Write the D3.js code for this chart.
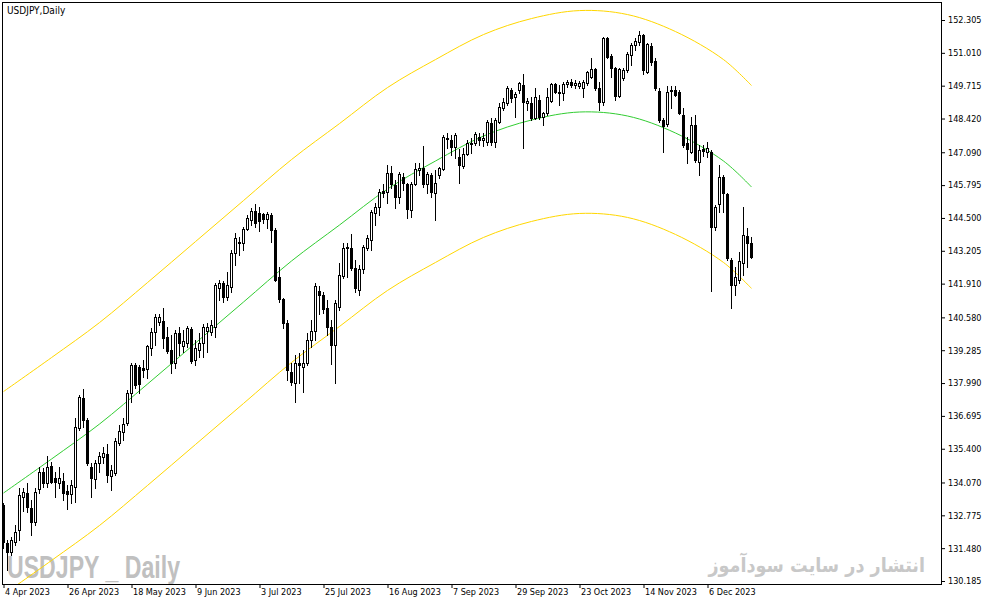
<!DOCTYPE html>
<html><head><meta charset="utf-8">
<script src="https://cdn.jsdelivr.net/npm/d3@7"></script>
<style>body{margin:0;background:#fff}svg{display:block}</style>
</head><body><svg id="c" width="987" height="605"></svg>
<script>
const opens=[133.18,131.68,131.33,131.72,132.20,133.50,133.65,133.06,132.51,133.81,
134.48,134.05,134.72,134.25,134.05,134.13,133.73,133.61,133.89,136.22,
137.40,136.53,134.68,134.21,134.84,135.07,135.19,134.33,134.44,135.63,
136.06,136.41,137.60,138.70,138.62,138.58,138.55,139.37,140.00,140.40,
140.44,139.81,139.29,138.78,139.96,139.45,139.57,140.12,138.90,139.29,
139.57,140.04,140.00,140.20,141.74,141.94,141.39,141.78,143.12,143.55,
143.51,144.07,144.42,144.77,144.70,144.66,144.46,144.62,144.03,142.17,
141.30,140.36,138.43,138.00,138.78,138.62,138.78,139.69,140.04,141.63,
141.47,140.95,140.20,139.49,140.99,142.21,143.36,143.32,142.53,141.66,
142.49,143.32,143.63,144.70,144.93,145.56,145.52,146.27,145.80,145.33,
146.11,145.84,144.81,145.84,146.39,146.47,145.84,146.19,145.48,146.19,
146.43,147.61,147.58,147.30,146.91,146.55,147.02,147.41,147.45,147.69,
147.58,147.50,148.25,147.50,148.29,148.84,149.03,149.55,149.27,149.55,
149.74,149.03,149.03,148.44,149.15,148.48,148.64,149.11,149.78,149.43,
149.43,149.78,149.86,149.74,149.70,149.62,149.82,150.06,150.37,149.62,
149.07,151.60,150.89,150.41,149.31,150.02,150.33,150.93,151.32,151.44,
151.71,150.26,151.28,150.69,149.51,148.36,148.21,149.51,149.55,149.47,
148.56,147.45,147.10,148.17,146.71,147.22,147.10,147.10,144.14,145.05,
146.11,145.44,142.84,141.86,142.06,142.73,143.79,143.51];
const highs=[133.26,131.80,131.92,132.39,133.85,133.85,134.05,133.38,133.85,134.68,
134.64,135.11,134.88,134.48,134.68,134.44,133.97,134.17,136.61,137.52,
137.76,136.61,134.84,134.96,135.27,135.47,135.59,134.76,135.83,136.34,
136.61,137.72,138.78,138.78,138.70,138.90,139.49,140.16,140.71,140.71,
140.95,140.20,139.88,140.08,140.20,140.08,140.24,140.20,139.69,139.96,
140.32,140.36,140.48,141.94,142.06,142.02,142.37,143.24,143.91,143.75,
144.14,144.62,144.89,145.05,144.93,144.70,144.74,144.70,144.10,142.57,
141.34,140.48,138.78,139.10,139.18,139.29,139.96,140.48,141.94,141.82,
141.59,141.26,140.48,141.26,142.73,143.51,143.51,143.87,142.84,142.65,
143.43,143.83,144.81,145.09,145.64,145.84,146.59,146.55,146.00,146.31,
146.27,145.88,145.92,146.67,146.67,147.34,146.31,146.27,146.39,146.51,
147.77,147.85,147.77,147.85,147.22,147.26,147.58,147.65,147.89,147.85,
147.85,148.36,148.44,148.44,149.03,149.23,149.70,149.62,149.47,149.86,
150.18,149.23,149.27,149.62,149.35,148.68,149.62,149.82,149.82,149.74,
149.86,149.94,149.98,149.94,149.90,149.94,150.30,150.81,150.41,149.86,
151.63,151.63,150.97,150.45,150.41,150.41,151.04,151.40,151.60,151.87,
151.75,151.40,151.40,150.81,149.62,148.44,149.70,149.70,149.70,149.55,
148.84,147.69,148.48,148.56,147.37,147.37,147.50,147.18,145.01,146.59,
146.19,145.48,142.92,142.57,143.16,144.93,144.10,143.75];
const lows=[131.49,130.62,131.21,131.60,131.80,132.94,132.90,132.00,132.39,133.65,
133.89,133.89,134.05,133.50,133.85,133.38,133.02,133.26,133.30,136.14,
136.26,134.76,133.50,133.85,134.48,134.84,134.09,133.77,134.37,135.56,
135.75,136.34,137.24,137.80,137.60,138.23,138.19,139.10,139.49,140.28,
139.37,139.18,138.39,138.58,139.10,139.21,139.41,138.78,138.70,139.02,
139.02,139.21,139.88,139.81,141.26,141.19,141.26,141.59,142.65,143.04,
143.24,144.03,144.22,144.14,143.99,144.30,144.10,143.55,142.02,141.19,
140.16,138.11,137.92,137.24,138.00,137.64,138.70,139.41,139.69,140.71,
140.75,139.88,138.74,138.00,140.87,142.13,142.17,142.45,141.59,141.47,
142.33,143.24,143.24,144.22,144.62,145.33,145.09,145.68,144.89,145.09,
145.60,144.50,144.54,145.80,146.19,145.72,145.48,145.33,144.42,146.08,
146.39,147.26,146.98,146.86,145.88,146.47,146.98,147.06,147.37,147.37,
147.33,147.37,147.37,147.30,148.25,148.76,148.96,149.07,148.48,149.43,
147.26,148.76,148.36,148.40,148.40,148.17,148.56,149.07,149.43,148.96,
149.15,149.66,149.66,149.62,149.62,149.27,149.74,150.02,149.55,148.76,
148.96,150.81,150.06,149.15,149.27,149.94,150.26,150.53,151.12,151.32,
150.18,150.22,150.53,149.55,148.28,147.10,148.13,148.84,149.31,148.60,
147.30,146.67,147.06,146.71,146.19,146.94,146.91,141.62,144.03,144.74,
144.74,142.84,140.95,141.47,141.94,142.25,142.57,142.92];
const closes=[131.72,131.33,131.80,132.12,133.57,133.69,133.10,132.51,133.69,134.48,
134.05,134.68,134.09,134.09,134.25,133.65,133.61,133.97,136.26,137.44,
136.53,134.84,134.25,134.84,135.11,135.23,134.37,134.56,135.71,136.10,
136.37,137.60,138.70,137.92,137.95,138.51,139.45,140.00,140.59,140.59,
139.77,139.25,138.78,139.96,139.57,139.65,140.16,138.86,139.37,139.57,
140.20,140.20,140.28,141.86,141.94,141.39,141.86,143.12,143.71,143.51,
144.07,144.50,144.77,144.30,144.38,144.46,144.66,144.03,142.06,141.30,
140.36,138.51,138.04,138.78,138.70,138.78,139.69,140.04,141.82,141.47,
140.91,140.20,139.49,141.15,142.25,143.32,143.32,142.53,141.74,142.49,
143.36,143.71,144.74,144.93,145.52,145.48,146.28,145.84,145.33,146.23,
145.88,144.85,145.84,146.43,146.47,145.84,146.23,145.52,145.88,146.47,
147.69,147.65,147.30,147.77,146.59,147.02,147.45,147.45,147.81,147.58,
147.65,148.29,147.50,148.36,148.87,149.07,149.62,149.23,149.39,149.82,
149.07,149.11,148.44,149.27,148.48,148.64,149.27,149.78,149.47,149.47,
149.78,149.86,149.74,149.82,149.82,149.86,150.26,150.37,149.62,149.07,
151.60,150.85,150.41,149.31,150.37,150.33,150.97,151.32,151.48,151.71,
150.33,151.36,150.65,149.62,148.36,148.13,149.47,149.55,149.35,148.64,
147.37,147.22,148.17,146.79,147.18,147.14,147.26,144.14,144.93,146.11,
145.48,142.92,141.86,142.17,142.80,143.83,143.51,142.96];

const priceTicks=[152.305,151.010,149.715,148.420,147.090,145.795,144.500,143.205,141.910,140.580,139.285,137.990,136.695,135.400,134.070,132.775,131.480,130.185];
const dateTickLabels=["4 Apr 2023","26 Apr 2023","18 May 2023","9 Jun 2023","3 Jul 2023","25 Jul 2023","16 Aug 2023","7 Sep 2023","29 Sep 2023","23 Oct 2023","14 Nov 2023","6 Dec 2023"];

const bandIdx=[0,12,24,36,48,60,72,84,96,108,120,132,144,156,168,180,187];
const bandMid=[133.654,134.994,136.374,137.952,139.568,141.185,142.802,144.221,145.641,146.745,147.731,148.362,148.677,148.520,147.849,146.745,145.720];
const bandUpper=[137.654,138.994,140.374,141.952,143.568,145.185,146.802,148.221,149.641,150.745,151.731,152.362,152.677,152.520,151.849,150.745,149.720];
const bandLower=[129.654,130.994,132.374,133.952,135.568,137.185,138.802,140.221,141.641,142.745,143.731,144.362,144.677,144.520,143.849,142.745,141.720];

const FONT='"DejaVu Sans Condensed","DejaVu Sans",sans-serif';
const svg=d3.select("#c");
svg.append("rect").attr("width",987).attr("height",605).attr("fill","#fff");

const fmt=d3.timeFormat("%-d %b %Y");
const days=d3.timeDay.range(new Date(2023,3,4),new Date(2024,1,1)).filter(d=>d.getDay()!==0&&d.getDay()!==6).slice(0,opens.length);
const dates=days.map(fmt);

const x=d3.scalePoint().domain(dates).range([3.5,3.5+4*(dates.length-1)]);
const y=d3.scaleLinear().domain([130.185,152.305]).range([581,20]);

svg.append("defs").append("clipPath").attr("id","clip").append("rect")
  .attr("x",3).attr("y",3).attr("width",938).attr("height",581);

// watermarks (behind)
svg.append("text").attr("x",7).attr("y",578)
  .attr("font-family",'"Liberation Sans Narrow","Liberation Sans",sans-serif')
  .attr("font-weight","bold").attr("font-size",31).attr("fill","#c0c0c0")
  .attr("textLength",173).attr("lengthAdjust","spacingAndGlyphs")
  .text("USDJPY _ Daily");
svg.append("text").attr("transform","translate(925,572) scale(0.88,1)").attr("text-anchor","end")
  .attr("font-family",'"DejaVu Sans",sans-serif').attr("font-weight","bold")
  .attr("font-size",20).attr("fill","#c8c8c8")
  .text("انتشار در سایت سودآموز");

const plot=svg.append("g").attr("clip-path","url(#clip)");

// bands
const mkLine=vals=>d3.line().x((d,k)=>x(dates[bandIdx[k]])).y(d=>y(d)).curve(d3.curveCatmullRom)(vals);
plot.append("path").attr("d",mkLine(bandUpper)).attr("fill","none").attr("stroke","#ffd700").attr("stroke-width",1);
plot.append("path").attr("d",mkLine(bandLower)).attr("fill","none").attr("stroke","#ffd700").attr("stroke-width",1);
plot.append("path").attr("d",mkLine(bandMid)).attr("fill","none").attr("stroke","#32cd32").attr("stroke-width",1);

// candles
const idx=d3.range(opens.length);
const cg=plot.append("g").attr("shape-rendering","crispEdges");
cg.selectAll("line.w").data(idx).join("line").attr("class","w")
  .attr("x1",i=>x(dates[i])).attr("x2",i=>x(dates[i]))
  .attr("y1",i=>Math.round(y(highs[i]))).attr("y2",i=>Math.round(y(lows[i]))+1)
  .attr("stroke","#000").attr("stroke-width",1);
const bodyIdx=idx.filter(i=>Math.round(y(opens[i]))!==Math.round(y(closes[i])));
const dojiIdx=idx.filter(i=>Math.round(y(opens[i]))===Math.round(y(closes[i])));
cg.selectAll("rect.b").data(bodyIdx).join("rect").attr("class","b")
  .attr("x",i=>x(dates[i])-1)
  .attr("y",i=>Math.min(Math.round(y(opens[i])),Math.round(y(closes[i])))+0.5)
  .attr("width",2)
  .attr("height",i=>Math.abs(Math.round(y(opens[i]))-Math.round(y(closes[i]))))
  .attr("fill",i=>closes[i]>=opens[i]?"#fff":"#000")
  .attr("stroke","#000").attr("stroke-width",1);
cg.selectAll("line.d").data(dojiIdx).join("line").attr("class","d")
  .attr("x1",i=>x(dates[i])-1.5).attr("x2",i=>x(dates[i])+1.5)
  .attr("y1",i=>Math.round(y(opens[i]))+0.5).attr("y2",i=>Math.round(y(opens[i]))+0.5)
  .attr("stroke","#000").attr("stroke-width",1);

// frame
svg.append("rect").attr("x",2.5).attr("y",2.5).attr("width",939).attr("height",582)
  .attr("fill","none").attr("stroke","#000").attr("stroke-width",1).attr("shape-rendering","crispEdges");

// right price axis
const ya=svg.append("g").attr("transform","translate(941,0)")
  .call(d3.axisRight(y).tickValues(priceTicks).tickSize(4).tickSizeOuter(0).tickFormat(d3.format(".3f")));
ya.select(".domain").remove();
ya.selectAll("text").attr("x",7).attr("font-family",FONT).attr("font-size",9).attr("fill","#000");
ya.selectAll("line").attr("stroke","#000");

// bottom date axis
const xa=svg.append("g").attr("transform","translate(0,584)")
  .call(d3.axisBottom(x).tickValues(dateTickLabels).tickSize(4).tickSizeOuter(0));
xa.select(".domain").remove();
xa.selectAll("text").attr("text-anchor","start").attr("x",1).attr("y",5)
  .attr("font-family",FONT).attr("font-size",9).attr("fill","#000");
xa.selectAll("line").attr("stroke","#000");

// title
svg.append("text").attr("x",7).attr("y",14).attr("font-family",FONT).attr("font-size",10)
  .attr("fill","#000").text("USDJPY,Daily");
</script></body></html>
